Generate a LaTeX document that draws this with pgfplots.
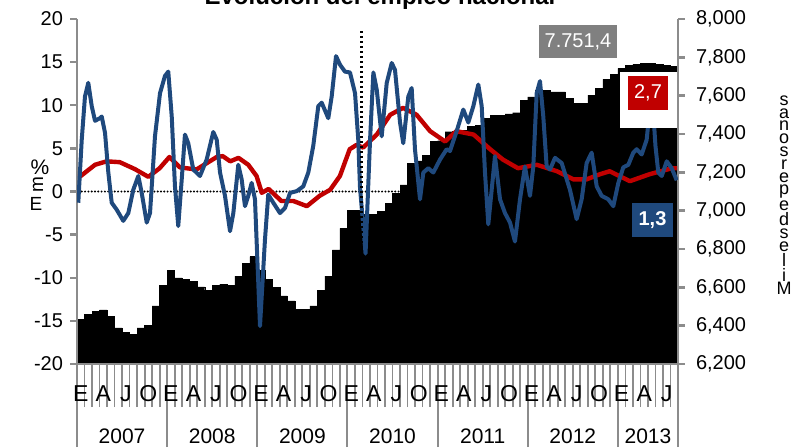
\documentclass[border=0pt]{standalone}
\usepackage{pgfplots}
\pgfplotsset{compat=1.18}
\usepackage{pgfplotstable}
\usepackage{fontspec}
\setmainfont{Liberation Sans}
\definecolor{myblue}{RGB}{31,73,125}
\definecolor{myred}{RGB}{192,0,0}
\definecolor{axgray}{RGB}{140,140,140}
\definecolor{boxgray}{RGB}{128,128,128}

\pgfplotstableread{
i v
0 6433
1 6459
2 6473
3 6482
4 6450
5 6389
6 6365
7 6353
8 6389
9 6403
10 6503
11 6610
12 6690
13 6650
14 6643
15 6633
16 6602
17 6586
18 6612
19 6616
20 6612
21 6659
22 6725
23 6760
24 6690
25 6642
26 6600
27 6555
28 6530
29 6487
30 6487
31 6503
32 6586
33 6659
34 6795
35 6908
36 7003
37 7003
38 6980
39 6980
40 6995
41 7038
42 7090
43 7134
44 7247
45 7260
46 7290
47 7360
48 7365
49 7412
50 7415
51 7420
52 7440
53 7447
54 7482
55 7499
56 7499
57 7505
58 7511
59 7577
60 7594
61 7629
62 7629
63 7620
64 7620
65 7586
66 7560
67 7560
68 7603
69 7638
70 7685
71 7712
72 7743
73 7760
74 7765
75 7769
76 7770
77 7765
78 7758
79 7751.4
}\bars

\pgfplotstableread{
x v
-0.3 1.7
0 1.8
1.9 3.1
3.45 3.5
5.2 3.4
7.2 2.6
9.0 1.7
10.5 2.7
11.8 4.0
13.2 2.8
15.4 2.55
18.1 4.0
18.9 4.1
19.9 3.5
21.0 3.9
22.3 3.1
23.4 1.8
24.1 -0.15
25.0 0.3
26.7 -1.1
28.3 -1.1
30.1 -1.7
31.8 -0.5
33.2 0.2
34.5 1.8
35.8 4.9
36.7 5.4
37.6 5.1
39.4 6.6
41.2 8.9
42.9 9.7
44.7 8.9
46.5 7.0
48.5 5.8
50.0 7.0
52.3 6.6
54.5 4.9
56.2 3.7
58.2 2.7
60.7 3.1
63.4 2.35
65.6 1.4
67.3 1.4
69.1 2.0
70.4 2.35
73.1 1.2
75.7 2.0
78.7 2.7
79.4 2.7
}\redline

\pgfplotstableread{
x v
-0.33 -1.3
0.13 6.0
0.56 11.0
1.00 12.6
1.46 9.9
1.90 8.2
2.56 8.5
2.79 8.7
3.23 6.8
3.67 2.2
4.12 -1.3
4.78 -2.1
5.66 -3.4
6.33 -2.5
6.99 0.2
7.66 1.8
8.11 -0.15
8.78 -3.6
9.22 -2.5
9.88 6.4
10.55 11.4
11.21 13.4
11.65 13.9
12.11 8.7
12.54 0.6
12.98 -4.0
13.44 1.4
13.87 6.6
14.31 5.6
14.98 2.55
15.87 1.8
16.76 3.7
17.64 6.9
18.10 6.0
18.54 2.2
19.20 -0.5
19.87 -4.6
20.31 -2.5
20.97 3.1
21.42 1.4
21.86 -1.7
22.30 -0.5
22.75 1.0
23.19 -0.9
23.86 -15.6
24.52 -5.6
24.96 -0.35
25.63 -1.3
26.52 -2.5
27.19 -1.9
27.86 -0.15
28.75 0.04
29.62 0.6
30.29 2.2
30.95 5.3
31.62 9.9
32.07 10.3
32.95 8.5
33.40 11.0
33.98 15.7
34.51 14.7
35.17 13.9
35.84 13.8
36.51 11.4
36.94 6.0
37.17 0.5
37.91 -7.2
38.51 6.0
38.95 13.8
39.40 11.8
40.06 6.4
40.73 12.6
41.39 14.9
41.83 14.1
42.50 8.0
42.93 5.6
43.60 11.0
44.05 12.0
44.49 4.9
45.16 -0.9
45.60 2.2
46.26 2.7
46.93 2.2
47.82 3.7
48.71 4.9
49.15 4.7
50.04 7.0
50.92 9.5
51.59 8.0
52.26 9.9
52.92 12.4
53.37 9.9
53.81 2.2
54.25 -3.8
54.70 0.2
55.14 4.1
55.81 -0.9
56.47 -2.5
57.14 -3.6
57.80 -5.8
58.47 -0.9
59.13 2.9
59.80 -0.5
60.24 2.9
60.69 11.4
61.13 12.8
61.57 8.7
62.02 2.9
62.46 2.55
63.13 3.9
64.02 3.3
65.12 0.2
66.01 -3.2
66.68 -0.9
67.34 3.3
68.01 4.5
68.68 0.6
69.34 -0.5
70.22 -0.9
70.89 -1.7
71.56 1.0
72.22 2.8
72.89 3.1
73.55 4.5
74.00 4.9
74.67 4.3
75.33 6.0
75.85 10.5
76.05 11.5
76.30 8.0
76.50 5.3
76.88 2.2
77.34 1.8
78.00 3.5
78.67 2.7
79.33 1.3
}\blueline

\pgfplotsset{base/.style={at={(38.5pt,41.5pt)}, anchor=south west, scale only axis,
  width=300.5pt, height=172.5pt, xmin=-0.5, xmax=79.5}}

\begin{document}
\begin{tikzpicture}
\useasboundingbox (0,0) rectangle (401pt,223.5pt);
% bars, right axis
\begin{axis}[base, ymin=6200, ymax=8000, axis x line=none, axis y line*=right,
  y axis line style={axgray, line width=1.2pt, -},
  ytick={6200,6400,...,8000}, ytick style={axgray, line width=1.2pt},
  tick align=outside, major tick length=3.5pt, scaled y ticks=false,
  yticklabel style={font=\fontsize{10}{12}\selectfont, xshift=2pt},
  /pgf/number format/1000 sep={,}, /pgf/number format/assume math mode=true,
  axis on top]
\addplot[ybar, bar width=1, fill=black, draw=black, line width=0.2pt] table[x=i,y=v]{\bars};
\end{axis}
% monthly ticks
\begin{axis}[base, ymin=0, ymax=1, axis y line=none, axis x line*=bottom,
  x axis line style={axgray, line width=1.2pt, -},
  xtick={-0.5,0.5,...,79.5}, xticklabels={}, tick align=outside,
  major tick length=21.5pt, xtick style={axgray, line width=0.9pt}]
\end{axis}
% year separators
\begin{axis}[base, ymin=0, ymax=1, axis y line=none, axis x line*=bottom,
  x axis line style={axgray, line width=1.2pt, -},
  xtick={-0.5,11.5,23.5,35.5,47.5,59.5,71.5,79.5}, xticklabels={}, tick align=outside,
  major tick length=41.5pt, xtick style={axgray, line width=1pt}]
\end{axis}
% month letters
\begin{axis}[base, ymin=0, ymax=1, axis y line=none, axis x line*=bottom,
  x axis line style={draw=none}, xtick style={draw=none}, major tick length=0pt,
  xtick={0,3,...,78},
  xticklabels={E,A,J,O,E,A,J,O,E,A,J,O,E,A,J,O,E,A,J,O,E,A,J,O,E,A,J},
  xticklabel style={anchor=center, yshift=-15pt, font=\fontsize{11.5}{13}\selectfont}]
\end{axis}
% year labels
\begin{axis}[base, ymin=0, ymax=1, axis y line=none, axis x line*=bottom,
  x axis line style={draw=none}, xtick style={draw=none}, major tick length=0pt,
  xtick={5.5,17.5,29.5,41.5,53.5,65.5,75.5},
  xticklabels={2007,2008,2009,2010,2011,2012,2013},
  xticklabel style={anchor=center, yshift=-36pt, font=\fontsize{10.5}{12}\selectfont}]
\end{axis}
% lines, left axis
\begin{axis}[base, ymin=-20, ymax=20, axis x line=none, axis y line*=left,
  y axis line style={axgray, line width=1.2pt, -},
  ytick={-20,-15,...,20}, ytick style={axgray, line width=1.2pt},
  tick align=outside, major tick length=3.5pt,
  yticklabel style={font=\fontsize{10}{12}\selectfont},
  /pgf/number format/assume math mode=true]
\addplot[black, line width=1.1pt, line cap=round, dash pattern=on 0pt off 1.65pt] coordinates {(-0.3,0) (79.5,0)};
\addplot[myred, line width=2.2pt, line join=round] table[x=x,y=v]{\redline};
\addplot[myblue, line width=2pt, line join=round] table[x=x,y=v]{\blueline};
\addplot[black, line width=1.5pt, dash pattern=on 1pt off 1.5pt] coordinates {(37.4,18.6) (37.4,-20)};
\end{axis}
\begin{scope}[x=0.5pt,y=0.5pt]
\node[font=\bfseries\fontsize{12}{14}\selectfont, anchor=base] at (380,443) {Evolución del empleo nacional};
\node[fill=boxgray, text=white, minimum width=39pt, minimum height=16.5pt, inner sep=0pt, font=\fontsize{10}{12}\selectfont] at (578,405.5) {7.751,4};
\fill[white] (620,319) rectangle (677,375);
\node[fill=myred, text=white, minimum width=20pt, minimum height=17pt, inner sep=0pt, font=\fontsize{10}{12}\selectfont] at (648,354) {2,7};
\node[fill=myblue, text=white, minimum width=20.5pt, minimum height=17pt, inner sep=0pt, font=\bfseries\fontsize{10}{12}\selectfont] at (652.5,227) {1,3};
\node[font=\fontsize{10.5}{12}\selectfont] at (40,280) {\%};
\node[rotate=90, font=\fontsize{9.5}{11}\selectfont] at (38,262) {m};
\node[font=\fontsize{9.5}{11}\selectfont] at (36,243) {E};
\node[align=center, font=\fontsize{9}{6.4}\selectfont] at (784,252) {s\\a\\n\\o\\s\\r\\e\\p\\e\\d\\s\\e\\l\\i\\M};
\end{scope}
\end{tikzpicture}
\end{document}
